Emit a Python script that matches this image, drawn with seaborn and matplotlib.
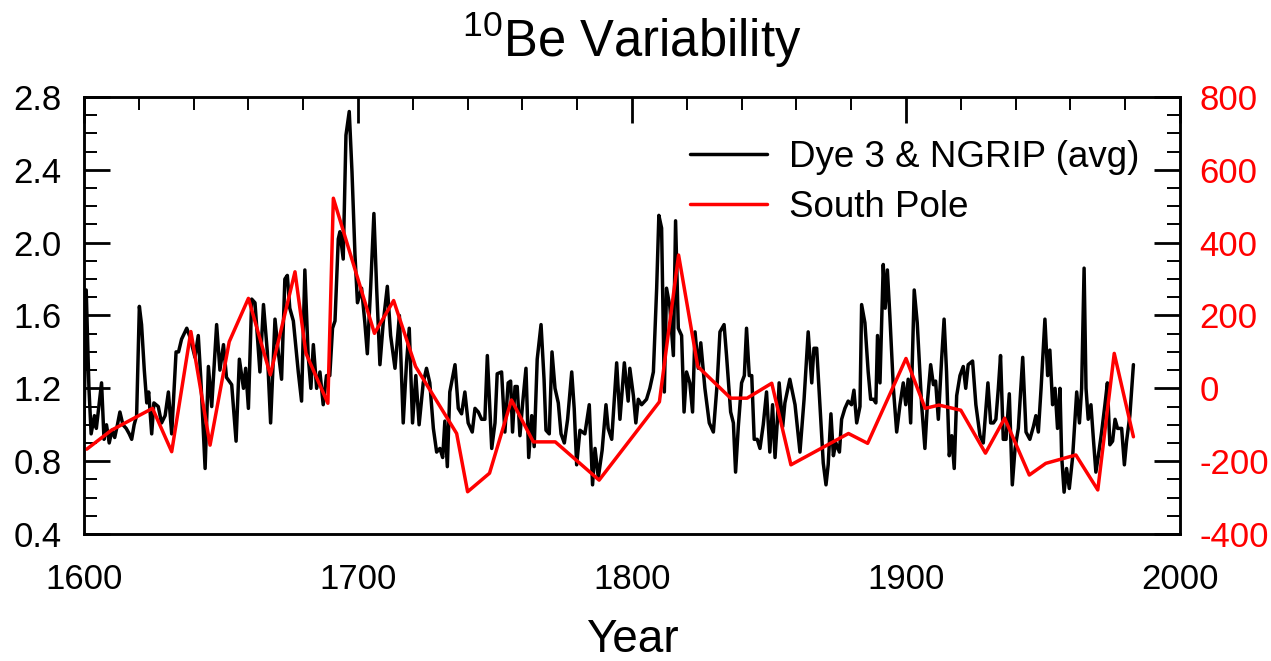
import matplotlib
matplotlib.use("Agg")
import matplotlib.pyplot as plt
import numpy as np
import pandas as pd
import seaborn as sns
from matplotlib.ticker import MultipleLocator, FormatStrFormatter

# Dye 3 & NGRIP averaged 10Be record (left axis)
dye_year = [
    1600.0, 1600.8, 1601.8, 1602.6, 1603.8, 1604.5, 1606.4, 1607.3, 1608.2, 1609.2,
    1610.2, 1611.2, 1612.2, 1613.1, 1614.2, 1615.4, 1616.5, 1617.4, 1618.3, 1619.2,
    1620.2, 1621.0, 1622.0, 1622.9, 1623.6, 1624.7, 1625.5, 1627.1, 1628.3, 1629.6,
    1630.8, 1632.0, 1633.6, 1634.5, 1635.6, 1637.5, 1638.7, 1640.5, 1641.7, 1642.6,
    1644.2, 1645.4, 1646.6, 1648.4, 1649.6, 1650.9, 1652.0, 1653.9, 1655.5, 1656.7,
    1658.2, 1659.0, 1660.0, 1661.2, 1662.4, 1664.2, 1665.5, 1666.9, 1668.1, 1669.7,
    1670.9, 1672.1, 1673.3, 1674.2, 1675.1, 1676.4, 1678.2, 1679.4, 1680.6, 1681.8,
    1682.8, 1683.7, 1684.9, 1686.1, 1687.3, 1688.5, 1689.7, 1690.7, 1691.6, 1692.8,
    1693.4, 1694.6, 1695.6, 1696.8, 1697.8, 1698.9, 1699.8, 1701.3, 1702.5, 1703.4,
    1704.6, 1705.8, 1706.8, 1708.0, 1709.2, 1710.7, 1711.9, 1713.5, 1715.1, 1716.5,
    1717.7, 1718.7, 1719.9, 1721.1, 1722.3, 1723.8, 1725.0, 1726.2, 1727.5, 1728.7,
    1729.9, 1730.9, 1731.7, 1732.6, 1733.5, 1735.4, 1736.6, 1737.8, 1739.0, 1740.2,
    1741.7, 1742.7, 1743.9, 1745.1, 1746.3, 1747.2, 1748.8, 1750.0, 1750.8, 1752.4,
    1753.6, 1754.8, 1755.7, 1756.4, 1757.3, 1758.1, 1759.1, 1760.1, 1761.3, 1762.3,
    1763.4, 1764.3, 1765.4, 1766.8, 1767.9, 1768.6, 1769.8, 1770.8, 1771.9, 1773.1,
    1774.1, 1775.3, 1776.5, 1778.0, 1778.9, 1779.8, 1781.0, 1782.8, 1784.4, 1785.6,
    1786.5, 1787.7, 1789.1, 1790.5, 1791.3, 1792.6, 1794.4, 1795.6, 1797.2, 1798.6,
    1799.2, 1800.5, 1801.4, 1802.3, 1803.5, 1805.3, 1806.5, 1807.8, 1809.0, 1809.8,
    1810.8, 1811.8, 1812.6, 1813.8, 1815.1, 1815.9, 1816.9, 1818.1, 1819.0, 1819.9,
    1821.1, 1822.1, 1823.0, 1824.2, 1825.1, 1826.6, 1828.2, 1829.7, 1831.1, 1832.1,
    1833.6, 1834.5, 1836.0, 1837.0, 1837.8, 1838.8, 1840.0, 1841.0, 1841.8, 1842.8,
    1843.7, 1844.6, 1845.7, 1846.7, 1847.9, 1849.1, 1850.3, 1851.3, 1852.2, 1853.0,
    1853.7, 1855.0, 1855.8, 1857.6, 1859.5, 1861.3, 1862.8, 1864.3, 1865.6, 1866.4,
    1867.4, 1868.6, 1869.8, 1870.8, 1871.6, 1872.6, 1873.5, 1874.4, 1875.7, 1876.5,
    1877.7, 1878.9, 1880.1, 1881.0, 1882.0, 1883.2, 1883.8, 1885.0, 1886.2, 1887.1,
    1888.1, 1889.0, 1889.6, 1890.5, 1891.7, 1892.4, 1893.2, 1894.1, 1895.4, 1896.6,
    1897.8, 1899.0, 1899.9, 1900.8, 1901.7, 1903.0, 1904.1, 1905.7, 1906.9, 1907.9,
    1909.0, 1910.0, 1910.8, 1911.8, 1913.0, 1913.9, 1914.8, 1915.8, 1916.7, 1917.6,
    1918.5, 1919.7, 1920.9, 1921.8, 1922.7, 1924.3, 1925.5, 1927.0, 1928.2, 1929.9,
    1930.9, 1931.9, 1932.8, 1933.7, 1934.5, 1935.5, 1936.5, 1937.7, 1938.8, 1939.8,
    1941.0, 1942.6, 1943.8, 1945.2, 1946.5, 1947.4, 1948.3, 1949.3, 1950.7, 1951.7,
    1952.5, 1953.5, 1954.4, 1955.3, 1956.2, 1956.8, 1957.7, 1958.6, 1959.6, 1960.8,
    1962.3, 1963.3, 1964.1, 1965.0, 1965.7, 1966.5, 1967.5, 1968.4, 1969.3, 1970.2,
    1971.4, 1972.6, 1973.5, 1974.4, 1975.4, 1976.3, 1977.2, 1978.1, 1978.7, 1979.7,
    1980.5, 1981.7, 1983.0,
]
dye_be = [
    1.00, 1.74, 1.20, 0.95, 1.05, 0.98, 1.23, 0.92, 1.00, 0.90,
    0.97, 0.93, 1.00, 1.07, 1.00, 0.98, 0.95, 0.92, 1.00, 1.05,
    1.65, 1.55, 1.30, 1.12, 1.18, 0.95, 1.12, 1.10, 1.01, 1.05,
    1.18, 0.95, 1.40, 1.40, 1.47, 1.53, 1.48, 1.37, 1.49, 1.26,
    0.76, 1.32, 1.10, 1.55, 1.30, 1.44, 1.26, 1.22, 0.91, 1.36,
    1.20, 1.31, 1.09, 1.69, 1.67, 1.29, 1.66, 1.40, 1.01, 1.58,
    1.40, 1.25, 1.80, 1.82, 1.64, 1.57, 1.29, 1.13, 1.85, 1.38,
    1.20, 1.44, 1.20, 1.29, 1.11, 1.27, 1.27, 1.53, 1.57, 2.02,
    2.06, 1.91, 2.59, 2.72, 2.39, 1.93, 1.67, 1.75, 1.56, 1.39,
    1.75, 2.16, 1.75, 1.33, 1.56, 1.76, 1.49, 1.31, 1.60, 1.01,
    1.34, 1.53, 1.01, 1.27, 1.00, 1.23, 1.31, 1.23, 0.98, 0.85,
    0.87, 0.82, 1.02, 0.77, 1.18, 1.33, 1.09, 1.06, 1.18, 1.01,
    0.96, 1.09, 1.07, 1.03, 1.03, 1.38, 0.87, 1.01, 1.28, 1.29,
    0.96, 1.23, 1.24, 0.96, 1.21, 1.21, 0.94, 1.12, 1.31, 0.82,
    1.05, 0.88, 1.36, 1.55, 1.25, 0.97, 0.95, 1.40, 1.20, 1.12,
    0.95, 0.90, 1.03, 1.29, 1.09, 0.78, 0.97, 0.95, 1.11, 0.67,
    0.87, 0.71, 0.86, 1.11, 0.98, 0.92, 1.34, 1.03, 1.34, 1.13,
    1.31, 1.16, 1.01, 1.14, 1.11, 1.14, 1.20, 1.29, 1.75, 2.15,
    2.08, 1.18, 1.75, 1.65, 1.38, 2.12, 1.53, 1.49, 1.07, 1.29,
    1.23, 1.07, 1.51, 1.31, 1.45, 1.20, 1.01, 0.96, 1.23, 1.51,
    1.55, 1.38, 1.07, 1.01, 0.74, 0.99, 1.23, 1.27, 1.53, 1.27,
    1.27, 0.92, 0.92, 0.87, 1.00, 1.18, 0.85, 1.11, 0.82, 1.01,
    1.23, 0.99, 1.12, 1.25, 1.11, 0.85, 1.14, 1.51, 1.23, 1.42,
    1.42, 1.11, 0.79, 0.67, 0.78, 1.06, 0.83, 0.90, 0.85, 1.03,
    1.09, 1.13, 1.11, 1.19, 1.01, 1.10, 1.66, 1.56, 1.29, 1.14,
    1.14, 1.12, 1.49, 1.23, 1.88, 1.64, 1.85, 1.60, 1.20, 0.96,
    1.11, 1.23, 1.11, 1.25, 1.01, 1.74, 1.56, 1.11, 0.87, 1.14,
    1.33, 1.22, 1.24, 1.03, 1.36, 1.58, 1.29, 0.83, 0.94, 0.76,
    1.16, 1.27, 1.32, 1.20, 1.33, 1.35, 1.11, 0.94, 0.90, 1.23,
    1.01, 1.01, 1.03, 1.20, 1.38, 0.92, 0.92, 1.17, 0.67, 0.87,
    0.98, 1.37, 0.96, 0.92, 0.99, 1.05, 0.96, 1.20, 1.58, 1.27,
    1.41, 1.11, 1.20, 0.98, 1.20, 0.83, 0.63, 0.76, 0.65, 0.82,
    1.18, 1.01, 1.20, 1.86, 1.20, 1.03, 1.11, 0.92, 0.74, 0.83,
    0.96, 1.11, 1.23, 0.89, 0.91, 1.03, 0.98, 0.98, 0.98, 0.78,
    0.91, 1.05, 1.33,
]

# South Pole 10Be record (right axis)
sp_year = [
    1601, 1610, 1625, 1632, 1639, 1646, 1653, 1660, 1668, 1677,
    1681, 1689, 1691, 1706, 1713, 1721, 1736, 1740, 1748, 1756,
    1764, 1772, 1788, 1810, 1817, 1824, 1836, 1842, 1851, 1858,
    1879, 1886, 1900, 1907, 1912, 1920, 1929, 1936, 1945, 1951,
    1962, 1970, 1976, 1983,
]
sp_be = [
    -167, -115, -55, -174, 156, -156, 128, 247, 37, 320,
    96, -41, 522, 151, 241, 60, -124, -284, -233, -32,
    -147, -147, -252, -37, 366, 60, -27, -27, 14, -210,
    -124, -151, 82, -55, -46, -60, -178, -82, -238, -206,
    -183, -279, 96, -133,
]

dye = pd.DataFrame({"Year": dye_year, "Be": dye_be})
sp = pd.DataFrame({"Year": sp_year, "Be": sp_be})

sns.set_theme(style="white")
plt.rcParams["font.family"] = ["Liberation Sans", "DejaVu Sans"]
plt.rcParams["mathtext.fontset"] = "custom"
plt.rcParams["mathtext.rm"] = "Liberation Sans"
plt.rcParams["axes.unicode_minus"] = False
plt.rcParams["text.color"] = "black"
plt.rcParams["axes.labelcolor"] = "black"
plt.rcParams["xtick.color"] = "black"
plt.rcParams["ytick.color"] = "black"

fig = plt.figure(figsize=(12.71, 6.61), dpi=100)
ax = fig.add_axes([0.0661, 0.1921, 0.8623, 0.6612])
ax2 = ax.twinx()

sns.lineplot(data=dye, x="Year", y="Be", ax=ax, color="black", linewidth=2.5,
             sort=False, label="Dye 3 & NGRIP (avg)", legend=False)
sns.lineplot(data=sp, x="Year", y="Be", ax=ax2, color="#ff0000", linewidth=2.5,
             sort=False, label="South Pole", legend=False)

ax.set_xlim(1600, 2000)
ax.set_ylim(0.4, 2.8)
ax2.set_ylim(-400, 800)

ax.xaxis.set_major_locator(MultipleLocator(100))
ax.xaxis.set_minor_locator(MultipleLocator(20))
ax.yaxis.set_major_locator(MultipleLocator(0.4))
ax.yaxis.set_minor_locator(MultipleLocator(0.1))
ax.yaxis.set_major_formatter(FormatStrFormatter("%.1f"))
ax2.yaxis.set_major_locator(MultipleLocator(200))
ax2.yaxis.set_minor_locator(MultipleLocator(50))

tick_fs = 25
ax.tick_params(axis="both", which="both", direction="in", colors="black",
               labelsize=tick_fs, top=True, right=False)
ax.tick_params(axis="x", which="major", length=19, width=2, pad=21)
ax.tick_params(axis="x", which="minor", length=9.5, width=1.4)
ax.tick_params(axis="y", which="major", length=19, width=2, pad=16)
ax.tick_params(axis="y", which="minor", length=9.5, width=1.4)
ax2.tick_params(axis="y", which="both", direction="in", colors="black",
                labelcolor="#ff0000", labelsize=tick_fs)
ax2.tick_params(axis="y", which="major", length=19, width=2, pad=14)
ax2.tick_params(axis="y", which="minor", length=9.5, width=1.4)

for a in (ax, ax2):
    for s in a.spines.values():
        s.set_linewidth(1.8)
        s.set_color("black")

ax.set_xlabel("Year", fontsize=33, labelpad=16)
ax.set_ylabel("")
ax2.set_ylabel("")
ax.set_title(r"$\mathregular{^{10}}$Be Variability", fontsize=36.5, pad=29)

handles = ax.get_lines()[:1] + ax2.get_lines()[:1]
labels = ["Dye 3 & NGRIP (avg)", "South Pole"]
ax2.legend(handles, labels, loc="upper right", bbox_to_anchor=(0.963, 0.902),
           frameon=False, fontsize=26.5, handlelength=2.1, handletextpad=0.6,
           labelspacing=0.42, borderpad=0, borderaxespad=0)

fig.savefig("out.png", dpi=100)
